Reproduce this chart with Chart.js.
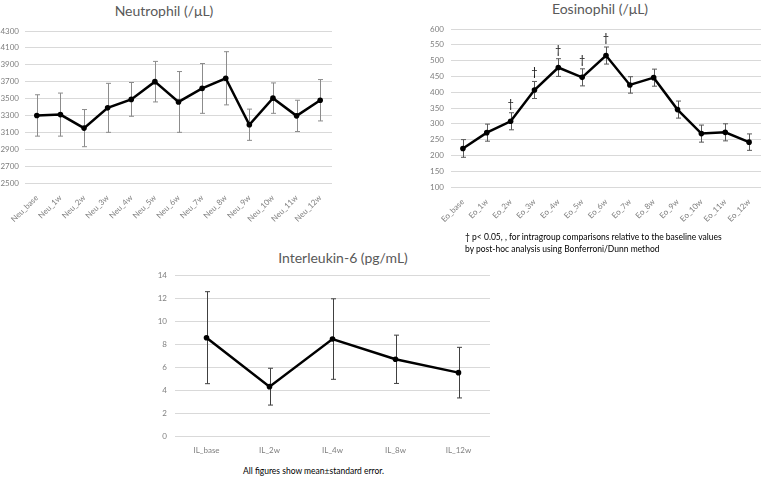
<!DOCTYPE html>
<html>
<head>
<meta charset="utf-8">
<script src="https://cdn.jsdelivr.net/npm/chart.js@4"></script>
<style>
  body { margin: 0; background: #fff; width: 767px; height: 477px; position: relative; overflow: hidden; font-family: Lato, "Open Sans", sans-serif; }
  canvas { position: absolute; }
  .title { position: absolute; color: #595959; font-size: 14px; transform: translateX(-50%); white-space: nowrap; }
  .note { position: absolute; color: #000; font-size: 8.5px; line-height: 12px; white-space: nowrap; }
</style>
</head>
<body>
<div class="title" style="left:164px; top:2px;">Neutrophil (/μL)</div>
<div class="title" style="left:600px; top:0px;">Eosinophil (/μL)</div>
<div class="title" style="left:343px; top:249px;">Interleukin-6 (pg/mL)</div>
<canvas id="neuChart" width="345" height="225" style="left:0; top:0;"></canvas>
<canvas id="eoChart" width="367" height="225" style="left:400px; top:0;"></canvas>
<canvas id="ilChart" width="350" height="222" style="left:150px; top:240px;"></canvas>
<div class="note" style="left:465px; top:231px;">† p&lt; 0.05, , for intragroup comparisons relative to the baseline values<br>by post-hoc analysis using Bonferroni/Dunn method</div>
<div class="note" style="left:243px; top:465px;">All figures show mean±standard error.</div>
<script>
const neuLabels = ["Neu_base", "Neu_1w", "Neu_2w", "Neu_3w", "Neu_4w", "Neu_5w", "Neu_6w", "Neu_7w", "Neu_8w", "Neu_9w", "Neu_10w", "Neu_11w", "Neu_12w"]
const neuMean = [3300, 3310, 3150, 3390, 3490, 3700, 3460, 3620, 3740, 3190, 3505, 3295, 3480]
const neuErr = [245, 255, 220, 290, 200, 240, 360, 295, 315, 185, 180, 185, 245]

const eoLabels = ["Eo_base", "Eo_1w", "Eo_2w", "Eo_3w", "Eo_4w", "Eo_5w", "Eo_6w", "Eo_7w", "Eo_8w", "Eo_9w", "Eo_10w", "Eo_11w", "Eo_12w"]
const eoMean = [222, 272, 308, 407, 478, 447, 516, 423, 446, 345, 269, 273, 242]
const eoErr = [28, 27, 27, 27, 28, 27, 27, 26, 27, 27, 27, 27, 26]
const eoSig = [false, false, true, true, true, true, true, false, false, false, false, false, false]

const ilLabels = ["IL_base", "IL_2w", "IL_4w", "IL_8w", "IL_12w"]
const ilMean = [8.55, 4.29, 8.43, 6.67, 5.51]
const ilErr = [4.0, 1.6, 3.5, 2.1, 2.2]

Chart.defaults.font.family = "Lato, 'Open Sans', sans-serif"

// error bars drawn under the line, daggers on top
const errorBars = {
  id: "errorBars",
  beforeDatasetsDraw(chart, args, opts) {
    const { ctx } = chart
    const x = chart.scales.x
    const y = chart.scales.y
    ctx.save()
    ctx.strokeStyle = opts.color
    ctx.lineWidth = 1
    opts.mean.forEach((m, i) => {
      const px = Math.round(x.getPixelForValue(i)) + 0.5
      const top = y.getPixelForValue(m + opts.err[i])
      const bot = y.getPixelForValue(m - opts.err[i])
      ctx.beginPath()
      ctx.moveTo(px, top); ctx.lineTo(px, bot)
      ctx.moveTo(px - 2.5, top); ctx.lineTo(px + 2.5, top)
      ctx.moveTo(px - 2.5, bot); ctx.lineTo(px + 2.5, bot)
      ctx.stroke()
    })
    ctx.restore()
  },
  afterDatasetsDraw(chart, args, opts) {
    if (!opts.sig) return
    const { ctx } = chart
    const x = chart.scales.x
    const y = chart.scales.y
    ctx.save()
    ctx.fillStyle = "#000"
    ctx.font = "11px Lato, sans-serif"
    ctx.textAlign = "center"
    ctx.textBaseline = "alphabetic"
    opts.mean.forEach((m, i) => {
      if (!opts.sig[i]) return
      ctx.fillText("†", x.getPixelForValue(i), y.getPixelForValue(m + opts.err[i]) - 5)
    })
    ctx.restore()
  }
}

function makeChart(id, labels, mean, err, sig, o) {
  return new Chart(document.getElementById(id), {
    type: "line",
    data: {
      labels: labels,
      datasets: [{
        data: mean,
        borderColor: "#000",
        backgroundColor: "#000",
        borderWidth: 2.5,
        pointRadius: 2.8,
        pointBorderWidth: 0,
        pointBackgroundColor: "#000",
        tension: 0
      }]
    },
    options: {
      responsive: false,
      animation: false,
      layout: { padding: o.padding },
      plugins: {
        legend: { display: false },
        tooltip: { enabled: false },
        errorBars: { mean: mean, err: err, sig: sig, color: o.errColor }
      },
      scales: {
        x: {
          offset: true,
          grid: { display: false },
          border: { display: false },
          afterFit: (s) => { s.height = o.xHeight },
          ticks: {
            color: "#7f7f7f",
            font: { size: 8 },
            autoSkip: false,
            minRotation: o.rot,
            maxRotation: o.rot,
            padding: o.xPad
          }
        },
        y: {
          min: o.min,
          max: o.max,
          grid: { color: "#d9d9d9", drawTicks: false },
          border: { display: false },
          afterFit: (s) => { s.width = o.yWidth },
          ticks: {
            stepSize: o.step,
            color: "#7f7f7f",
            font: { size: 8 },
            padding: o.yPad,
            callback: (v) => String(v)
          }
        }
      }
    },
    plugins: [errorBars]
  })
}

makeChart("neuChart", neuLabels, neuMean, neuErr, null, {
  padding: { top: 31, left: 0, right: 13, bottom: 0 },
  xHeight: 42, yWidth: 25, rot: 45, xPad: 2, yPad: 6,
  min: 2500, max: 4300, step: 200, errColor: "#8c8c8c"
})

makeChart("eoChart", eoLabels, eoMean, eoErr, eoSig, {
  padding: { top: 29, left: 20, right: 6, bottom: 0 },
  xHeight: 38, yWidth: 31, rot: 45, xPad: 2, yPad: 7,
  min: 100, max: 600, step: 50, errColor: "#595959"
})

makeChart("ilChart", ilLabels, ilMean, ilErr, null, {
  padding: { top: 35, left: 0, right: 10, bottom: 0 },
  xHeight: 26, yWidth: 25, rot: 0, xPad: 2, yPad: 8,
  min: 0, max: 14, step: 2, errColor: "#404040"
})
</script>
</body>
</html>
